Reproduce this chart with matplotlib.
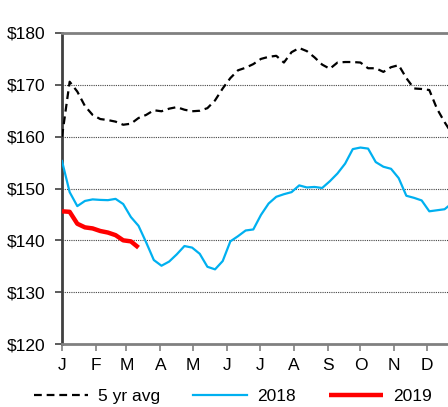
import matplotlib
matplotlib.use("Agg")
import matplotlib.pyplot as plt
import numpy as np

months = ["J", "F", "M", "A", "M", "J", "J", "A", "S", "O", "N", "D"]
month_start_days = [0, 31, 59, 90, 120, 151, 181, 212, 243, 273, 304, 334]

avg5 = [160.0, 170.6, 168.7, 165.9, 164.2, 163.4, 163.2, 162.9, 162.3, 162.5,
        163.6, 164.2, 165.1, 164.9, 165.4, 165.7, 165.2, 164.9, 165.0, 165.5,
        167.0, 169.3, 171.3, 172.8, 173.3, 174.0, 175.0, 175.4, 175.6, 174.3,
        176.3, 177.1, 176.5, 175.3, 173.9, 173.1, 174.3, 174.4, 174.4, 174.3,
        173.2, 173.2, 172.5, 173.4, 173.8, 171.3, 169.3, 169.2, 169.0, 165.4,
        162.8, 160.5]
y2018 = [155.3, 149.3, 146.6, 147.6, 147.9, 147.8, 147.75, 148.0, 147.0, 144.5,
         142.8, 139.6, 136.2, 135.1, 135.9, 137.3, 138.9, 138.6, 137.4, 134.9,
         134.4, 136.0, 139.8, 140.8, 141.9, 142.1, 144.9, 147.1, 148.4, 148.9,
         149.3, 150.6, 150.2, 150.3, 150.1, 151.4, 152.9, 154.8, 157.6, 157.9,
         157.7, 155.1, 154.2, 153.8, 152.0, 148.6, 148.2, 147.7, 145.6, 145.8,
         146.0, 147.2]
y2019 = [145.6, 145.5, 143.2, 142.5, 142.3, 141.8, 141.5, 141.0, 140.0, 139.8, 138.6]

yticks = [120, 130, 140, 150, 160, 170, 180]
ytick_labels = ["$120", "$130", "$140", "$150", "$160", "$170", "$180"]

plt.rcParams['font.family'] = ['Liberation Sans', 'DejaVu Sans']

fig = plt.figure(figsize=(4.48, 4.07), dpi=100)
ax = fig.add_axes([62/448, 1-344/407, (461-62)/448, (344-33)/407])

def days(n):
    return np.arange(n) * 7

ax.plot(days(len(avg5)), avg5, color="black", lw=1.6, ls=(0, (3.5, 2.2)), label="5 yr avg", zorder=3)
ax.plot(days(len(y2018)), y2018, color="#00B0F0", lw=1.6, label="2018", zorder=3)
ax.plot(days(len(y2019)), y2019, color="#FF0000", lw=3.2, label="2019", zorder=4,
        solid_capstyle="butt")

ax.set_xlim(0, 365)
ax.set_ylim(120, 180)
ax.set_yticks(yticks)
ax.set_yticklabels(ytick_labels, fontsize=12.5)
ax.set_xticks(month_start_days)
ax.set_xticklabels(months, fontsize=12.5)

for v in [130, 140, 150, 160, 170]:
    ax.axhline(v, color="#444444", lw=0.8, ls=(0, (1, 1)), zorder=1)

ax.spines["top"].set_color("#808080")
ax.spines["top"].set_linewidth(2)
ax.spines["right"].set_visible(False)
ax.spines["bottom"].set_color("#808080")
ax.spines["bottom"].set_linewidth(2)
ax.spines["left"].set_color("#404040")
ax.spines["left"].set_linewidth(2)

ax.tick_params(axis="y", direction="out", length=5, width=1.2, color="#404040", pad=7)
ax.tick_params(axis="x", direction="out", length=5, width=1.2, color="#808080", pad=5)

leg = fig.legend(loc="center", bbox_to_anchor=(233/448, 1-396/407), ncol=3, frameon=False,
                 fontsize=12.5, handlelength=3.1, columnspacing=1.9, handletextpad=0.6)

fig.savefig("out.png", dpi=100)
